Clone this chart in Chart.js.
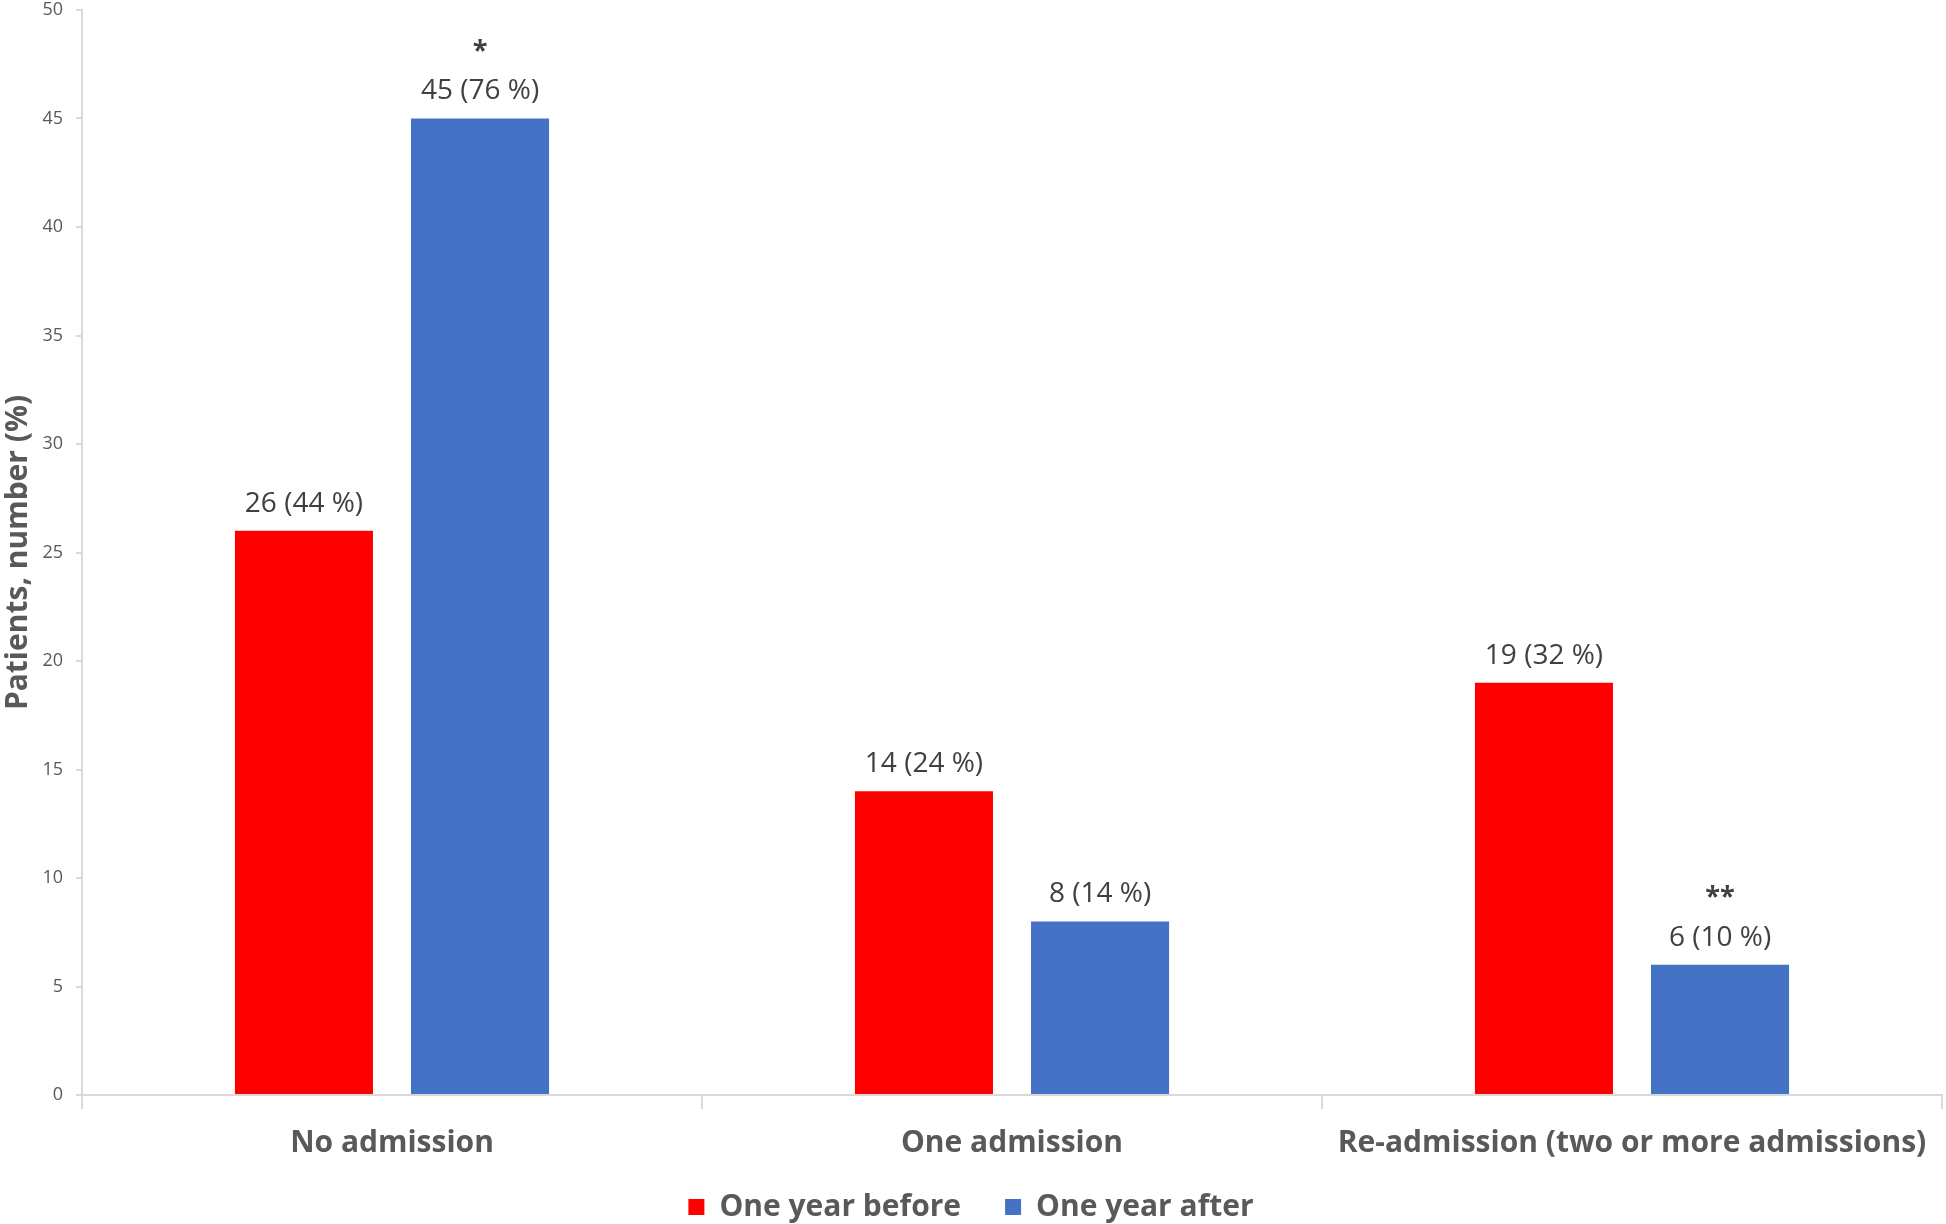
<!DOCTYPE html>
<html>
<head>
  <title>Admissions before and after</title>
  <script src="https://cdn.jsdelivr.net/npm/chart.js"></script>
  <style>
    html, body { margin: 0; padding: 0; background: #fff; }
    #wrap { width: 1946px; height: 1224px; }
  </style>
</head>
<body>
  <div id="wrap"><canvas id="admChart"></canvas></div>
  <script>
    // data
    const categories = ['No admission', 'One admission', 'Re-admission (two or more admissions)'];
    const beforeValues = [26, 14, 19];
    const afterValues = [45, 8, 6];
    const beforeLabels = ['26 (44 %)', '14 (24 %)', '19 (32 %)'];
    const afterLabels = ['45 (76 %)', '8 (14 %)', '6 (10 %)'];
    const beforeMarks = ['', '', ''];
    const afterMarks = ['*', '', '**'];
    const yTicks = [0, 5, 10, 15, 20, 25, 30, 35, 40, 45, 50];

    const FONT = '"Open Sans", "Noto Sans", sans-serif';
    const axisColor = '#d9d9d9';

    // value labels and significance stars above the bars
    const barLabels = {
      id: 'barLabels',
      afterDatasetsDraw(chart) {
        const ctx = chart.ctx;
        const texts = [beforeLabels, afterLabels];
        const marks = [beforeMarks, afterMarks];
        ctx.save();
        ctx.textAlign = 'center';
        ctx.textBaseline = 'middle';
        chart.data.datasets.forEach((ds, i) => {
          chart.getDatasetMeta(i).data.forEach((bar, j) => {
            ctx.fillStyle = '#404040';
            ctx.font = '28px ' + FONT;
            ctx.fillText(texts[i][j], bar.x, bar.y - 27);
            if (marks[i][j]) {
              ctx.font = 'bold 27px ' + FONT;
              ctx.fillText(marks[i][j], bar.x, bar.y - 67);
            }
          });
        });
        ctx.restore();
      }
    };

    new Chart(document.getElementById('admChart'), {
      type: 'bar',
      data: {
        labels: categories,
        datasets: [{
          label: 'One year before',
          data: beforeValues,
          backgroundColor: '#ff0000',
          categoryPercentage: 0.568,
          barPercentage: 0.784
        },
        {
          label: 'One year after',
          data: afterValues,
          backgroundColor: '#4472c4',
          categoryPercentage: 0.568,
          barPercentage: 0.784
        }]
      },
      options: {
        responsive: true,
        maintainAspectRatio: false,
        animation: false,
        layout: { padding: { top: 10, right: 4, left: 0, bottom: -8 } },
        scales: {
          x: {
            afterFit: s => {
              s.height = 53;
              // category labels hang below the short axis box, so don't clip them
              s._computeLabelArea = () => undefined;
            },
            border: { color: axisColor, width: 2 },
            grid: { drawOnChartArea: false, color: axisColor, tickLength: 14, lineWidth: 2, offset: true },
            ticks: { color: '#595959', font: { family: FONT, size: 30, weight: 'bold' }, padding: 16 }
          },
          y: {
            min: 0,
            max: 50,
            afterFit: s => { s.width = 82; s.paddingTop = 0; },
            afterBuildTicks: s => { s.ticks = yTicks.map(v => ({ value: v })); },
            border: { color: axisColor, width: 2 },
            grid: { drawOnChartArea: false, color: axisColor, tickLength: 6, lineWidth: 2 },
            ticks: { color: '#595959', font: { family: FONT, size: 18 }, padding: 13 },
            title: {
              display: true,
              text: 'Patients, number (%)',
              color: '#595959',
              font: { family: FONT, size: 30, weight: 'bold' },
              padding: { top: 0, bottom: 0 }
            }
          }
        },
        plugins: {
          legend: {
            position: 'bottom',
            labels: {
              color: '#595959',
              font: { family: FONT, size: 30, weight: 'bold' },
              boxWidth: 16,
              boxHeight: 16,
              padding: 44
            }
          },
          tooltip: { enabled: false }
        }
      },
      plugins: [barLabels]
    });
  </script>
</body>
</html>
